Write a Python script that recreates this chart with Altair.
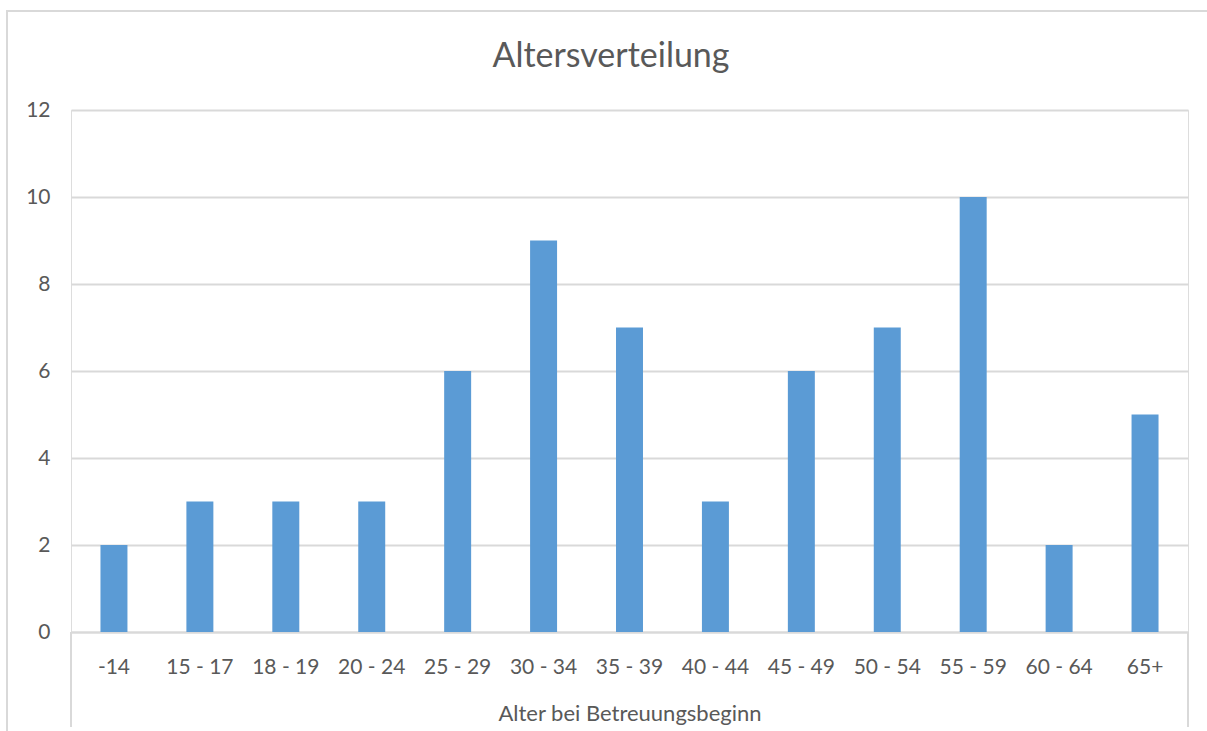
import altair as alt
import pandas as pd

categories = ["-14", "15 - 17", "18 - 19", "20 - 24", "25 - 29", "30 - 34", "35 - 39",
              "40 - 44", "45 - 49", "50 - 54", "55 - 59", "60 - 64", "65+"]
counts = [2, 3, 3, 3, 6, 9, 7, 3, 6, 7, 10, 2, 5]
y_ticks = [0, 2, 4, 6, 8, 10, 12]
chart_title = "Altersverteilung"

df = pd.DataFrame({"Altersgruppe": categories, "Anzahl": counts})

FONT = "Lato"
TEXT = "#595959"
GRID = "#d9d9d9"
W, H = 1117, 522

bars = alt.Chart(df).mark_bar(color="#5b9bd5").encode(
    x=alt.X(
        "Altersgruppe:N",
        sort=categories,
        scale=alt.Scale(paddingInner=0.686, paddingOuter=0.343),
        axis=alt.Axis(
            title="Alter bei Betreuungsbeginn",
            labelAngle=0,
            labelFont=FONT, labelFontSize=21, labelColor=TEXT,
            labelPadding=24,
            ticks=False, tickSize=0,
            domainColor=GRID, domainWidth=2,
            titleFont=FONT, titleFontSize=22, titleColor=TEXT,
            titleFontWeight="normal", titlePadding=26,
            grid=False,
        ),
    ),
    y=alt.Y(
        "Anzahl:Q",
        scale=alt.Scale(domain=[0, 12]),
        axis=alt.Axis(
            title=None,
            values=y_ticks,
            labelFont=FONT, labelFontSize=21, labelColor=TEXT,
            labelPadding=21,
            ticks=False, tickSize=0,
            domain=False,
            grid=True, gridColor=GRID, gridWidth=2,
        ),
    ),
)

# Excel-style category axis end lines and outer chart border (decoration)
deco = pd.DataFrame({"t": [chart_title]})
left_line = alt.Chart(deco).mark_rule(color=GRID, strokeWidth=2).encode(
    x=alt.value(0), y=alt.value(H), y2=alt.value(H + 95)
)
right_line = alt.Chart(deco).mark_rule(color=GRID, strokeWidth=2).encode(
    x=alt.value(W), y=alt.value(H), y2=alt.value(H + 95)
)
border = alt.Chart(deco).mark_rect(fill=None, stroke=GRID, strokeWidth=2).encode(
    x=alt.value(-64), x2=alt.value(W + 40), y=alt.value(-99), y2=alt.value(H + 200)
)
title = alt.Chart(deco).mark_text(
    font=FONT, fontSize=34, color=TEXT, align="center", baseline="alphabetic"
).encode(text="t:N", x=alt.value(540), y=alt.value(-43))

chart = alt.layer(border, bars, left_line, right_line, title).properties(
    width=W,
    height=H,
    autosize=alt.AutoSizeParams(type="none"),
    padding={"left": 71, "top": 110, "right": 19, "bottom": 99},
).configure_view(stroke=None).configure(background="white")

chart.save("out.html", embed_options={"renderer": "svg", "actions": False})
